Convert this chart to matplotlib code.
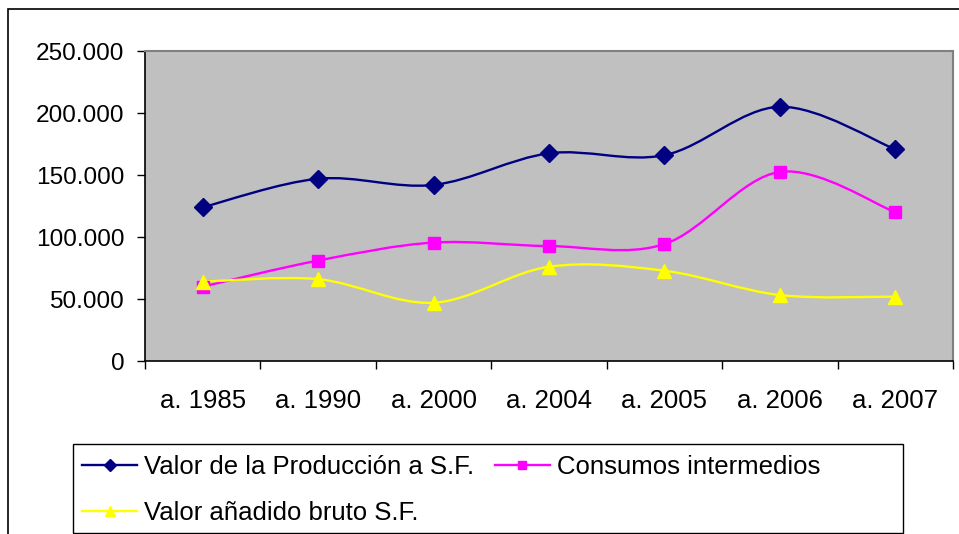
import numpy as np
import matplotlib
matplotlib.use('Agg')
import matplotlib.pyplot as plt
from matplotlib.path import Path
from matplotlib.patches import PathPatch, Rectangle
from matplotlib.lines import Line2D
from matplotlib.ticker import FuncFormatter, FixedLocator

plt.rcParams['font.family'] = ['Liberation Sans', 'DejaVu Sans']

years = ['a. 1985', 'a. 1990', 'a. 2000', 'a. 2004', 'a. 2005', 'a. 2006', 'a. 2007']
produccion = [124000, 147000, 142000, 167500, 166000, 205000, 170700]
consumos = [60000, 81000, 95500, 92700, 94300, 152500, 120000]
vab = [64000, 66000, 47000, 76000, 72800, 53200, 51900]

names = ['Valor de la Producción a S.F.', 'Consumos intermedios', 'Valor añadido bruto S.F.']
colors = ['#000080', '#FF00FF', '#FFFF00']
markers = ['D', 's', '^']
msizes = [9, 8.5, 10]


def smooth_path(x, y, t=1.0 / 6):
    # excel-like smoothed line: bezier segments through the points
    pts = np.column_stack([x, y]).astype(float)
    n = len(pts)
    verts = [pts[0]]
    codes = [Path.MOVETO]
    for i in range(n - 1):
        p0 = pts[i - 1] if i > 0 else pts[i]
        p1 = pts[i]
        p2 = pts[i + 1]
        p3 = pts[i + 2] if i + 2 < n else pts[i + 1]
        c1 = p1 + (p2 - p0) * t
        c2 = p2 - (p3 - p1) * t
        verts += [c1, c2, p2]
        codes += [Path.CURVE4] * 3
    return Path(verts, codes)


W, H = 959, 534
fig = plt.figure(figsize=(W / 100, H / 100), dpi=100)
fig.patch.set_facecolor('white')

# chart border (cropped on the right and bottom)
fig.patches.append(Rectangle((8 / W, -0.1), 1.2, 1.1 - 9 / H, transform=fig.transFigure,
                             fill=False, edgecolor='black', linewidth=1.2))

ax = fig.add_axes([145 / W, (H - 361) / H, (953 - 145) / W, (361 - 51) / H])
ax.set_facecolor('#C0C0C0')

x = np.arange(len(years))
series = [produccion, consumos, vab]
handles = []
for vals, c, m, ms, name in zip(series, colors, markers, msizes, names):
    ax.add_patch(PathPatch(smooth_path(x, vals), facecolor='none', edgecolor=c,
                           linewidth=1.7, zorder=3))
    ax.plot(x, vals, linestyle='none', marker=m, markersize=ms, color=c,
            markeredgecolor=c, zorder=4)
    handles.append(Line2D([], [], color=c, linewidth=1.7, marker=m,
                          markersize=ms * 0.7, markeredgecolor=c, label=name))

ax.set_xlim(-0.5, len(years) - 0.5)
ax.set_ylim(0, 250000)
ax.set_yticks(np.arange(0, 250001, 50000))
ax.yaxis.set_major_formatter(FuncFormatter(lambda v, p: '{:,.0f}'.format(v).replace(',', '.')))
ax.set_xticks(x)
ax.set_xticklabels(years)
ax.xaxis.set_minor_locator(FixedLocator(np.arange(-0.5, len(years), 1.0)))
ax.tick_params(axis='x', which='major', length=0, pad=20, labelsize=18.5)
ax.tick_params(axis='x', which='minor', length=6, width=1, direction='out')
ax.tick_params(axis='y', length=6, width=1, direction='out', pad=9, labelsize=17.6)

for s in ['top', 'right']:
    ax.spines[s].set_color('#808080')
    ax.spines[s].set_linewidth(1.5)
for s in ['left', 'bottom']:
    ax.spines[s].set_color('black')
    ax.spines[s].set_linewidth(1.2)

# legend box
fig.patches.append(Rectangle((73 / W, (H - 533) / H), (903 - 73) / W, (533 - 444) / H,
                             transform=fig.transFigure, fill=False, edgecolor='black',
                             linewidth=1.0))
fig.legend(handles=[handles[0], handles[2], handles[1]], ncol=2,
           loc='upper left', bbox_to_anchor=(82 / W, (H - 455) / H),
           frameon=False, fontsize=18.5, handlelength=2.15, handletextpad=0.27,
           columnspacing=0.8, labelspacing=0.85, borderpad=0, borderaxespad=0)

fig.savefig('out.png', dpi=100)
